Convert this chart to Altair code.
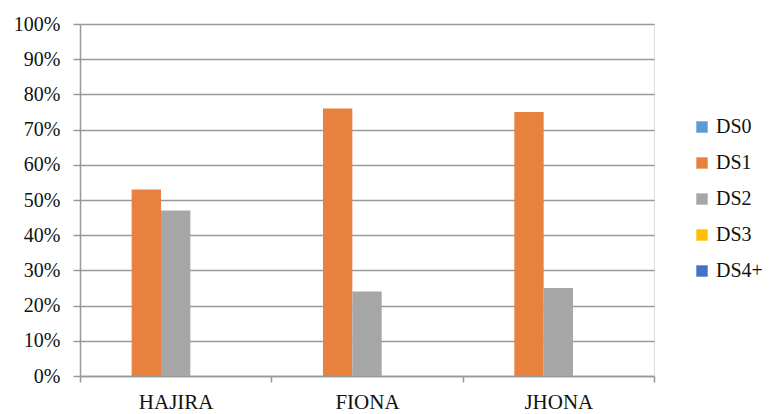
import altair as alt
import pandas as pd

categories = ["HAJIRA", "FIONA", "JHONA"]
series = ["DS0", "DS1", "DS2", "DS3", "DS4+"]
ds0 = [0.0, 0.0, 0.0]
ds1 = [0.53, 0.76, 0.75]
ds2 = [0.47, 0.24, 0.25]
ds3 = [0.0, 0.0, 0.0]
ds4 = [0.0, 0.0, 0.0]
colors = ["#5B9BD5", "#E8803E", "#A6A6A6", "#FFC000", "#4472C4"]
y_ticks = [i / 10 for i in range(11)]

rows = []
for s, vals in zip(series, [ds0, ds1, ds2, ds3, ds4]):
    for c, v in zip(categories, vals):
        rows.append({"cat": c, "series": s, "value": v})
df = pd.DataFrame(rows)

font = "Liberation Serif"

chart = alt.Chart(df).mark_bar().encode(
    x=alt.X("cat:N", sort=categories, title=None,
            scale=alt.Scale(paddingInner=0, paddingOuter=0),
            axis=alt.Axis(labelAngle=0, tickBand="extent", domainColor="#999999",
                          tickColor="#999999", tickSize=6, labelFontSize=21,
                          labelFont=font, labelColor="#111111", labelPadding=9,
                          domainWidth=1.5, tickWidth=1.5, grid=False)),
    xOffset=alt.XOffset("series:N", sort=series,
                        scale=alt.Scale(paddingInner=0, paddingOuter=0.76)),
    y=alt.Y("value:Q", title=None,
            scale=alt.Scale(domain=[0, 1], nice=False),
            axis=alt.Axis(values=y_ticks, format=".0%", domainColor="#999999",
                          tickColor="#999999", tickSize=7, gridColor="#999999",
                          gridWidth=1.5, domainWidth=1.5, tickWidth=1.5,
                          labelFontSize=20, labelFont=font,
                          labelColor="#111111", labelPadding=13)),
    color=alt.Color("series:N", sort=series, title=None,
                    scale=alt.Scale(domain=series, range=colors),
                    legend=alt.Legend(orient="none", legendX=612, legendY=93,
                                      symbolType="square", symbolSize=130,
                                      symbolStrokeWidth=0,
                                      labelFontSize=20, labelFont=font,
                                      labelColor="#111111", labelOffset=4,
                                      rowPadding=16)),
).properties(
    width=574, height=352,
    autosize=alt.AutoSizeParams(type="none"),
    padding={"left": 72, "top": 16, "right": 108, "bottom": 38},
).configure_view(stroke=None).configure(background="white")

chart.save("out.html", embed_options={"renderer": "svg", "actions": False})
